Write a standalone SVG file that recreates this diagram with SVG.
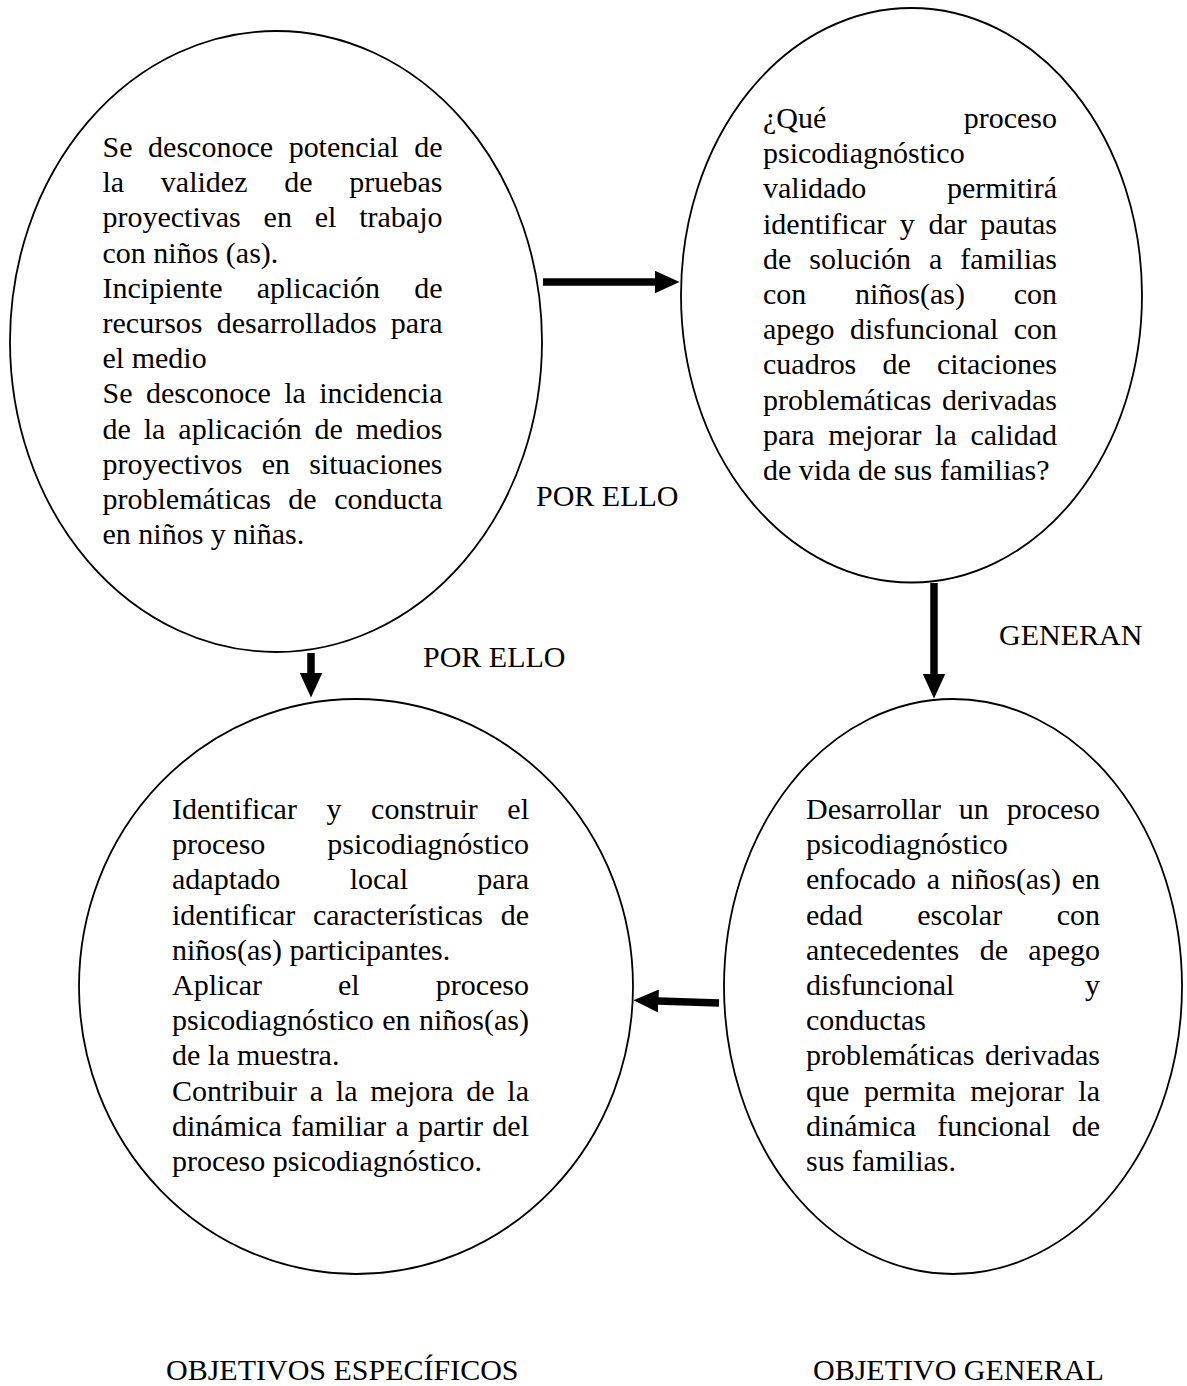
<svg xmlns="http://www.w3.org/2000/svg" width="1187" height="1386" viewBox="0 0 1187 1386">
<style>
  .node{fill:#ffffff;stroke:#000000;stroke-width:1.8}
  text{font-family:"Liberation Serif","Times New Roman",serif;font-size:30px;fill:#000000}
  .conn{stroke:#000000;stroke-width:7.5;fill:none;marker-end:url(#ah)}
</style>
<defs>
  <marker id="ah" markerUnits="userSpaceOnUse" markerWidth="25" markerHeight="23" viewBox="0 0 25 23" refX="0.5" refY="11.5" orient="auto">
    <path d="M0,0 L25,11.5 L0,23 Z" fill="#000000"/>
  </marker>
</defs>
<rect width="1187" height="1386" fill="#ffffff"/>

<g id="node-problema">
  <ellipse class="node" cx="276" cy="341.5" rx="266" ry="310.5"/>
  <text x="102.5" y="157" word-spacing="8.1" textLength="340" lengthAdjust="spacing">Se desconoce potencial de</text>
  <text x="102.5" y="192.2" word-spacing="29.2" textLength="340" lengthAdjust="spacing">la validez de pruebas</text>
  <text x="102.5" y="227.4" word-spacing="15.3" textLength="340" lengthAdjust="spacing">proyectivas en el trabajo</text>
  <text x="102.5" y="262.6">con niños (as).</text>
  <text x="102.5" y="297.8" word-spacing="26.7" textLength="340" lengthAdjust="spacing">Incipiente aplicación de</text>
  <text x="102.5" y="333" word-spacing="6.7" textLength="340" lengthAdjust="spacing">recursos desarrollados para</text>
  <text x="102.5" y="368.2">el medio</text>
  <text x="102.5" y="403.4" word-spacing="5.9" textLength="340" lengthAdjust="spacing">Se desconoce la incidencia</text>
  <text x="102.5" y="438.6" word-spacing="5.4" textLength="340" lengthAdjust="spacing">de la aplicación de medios</text>
  <text x="102.5" y="473.8" word-spacing="11.7" textLength="340" lengthAdjust="spacing">proyectivos en situaciones</text>
  <text x="102.5" y="509" word-spacing="10" textLength="340" lengthAdjust="spacing">problemáticas de conducta</text>
  <text x="102.5" y="544.2">en niños y niñas.</text>
</g>

<g id="node-pregunta">
  <ellipse class="node" cx="911.5" cy="295.25" rx="230.5" ry="287.25"/>
  <text x="763" y="128" word-spacing="129.9" textLength="294" lengthAdjust="spacing">¿Qué proceso</text>
  <text x="763" y="163.2">psicodiagnóstico</text>
  <text x="763" y="198.4" word-spacing="73.2" textLength="294" lengthAdjust="spacing">validado permitirá</text>
  <text x="763" y="233.6" word-spacing="6.1" textLength="294" lengthAdjust="spacing">identificar y dar pautas</text>
  <text x="763" y="268.8" word-spacing="10.5" textLength="294" lengthAdjust="spacing">de solución a familias</text>
  <text x="763" y="304" word-spacing="41.2" textLength="294" lengthAdjust="spacing">con niños(as) con</text>
  <text x="763" y="339.2" word-spacing="7.9" textLength="294" lengthAdjust="spacing">apego disfuncional con</text>
  <text x="763" y="374.4" word-spacing="18.7" textLength="294" lengthAdjust="spacing">cuadros de citaciones</text>
  <text x="763" y="409.6" word-spacing="3.2" textLength="294" lengthAdjust="spacing">problemáticas derivadas</text>
  <text x="763" y="444.8" word-spacing="6.1" textLength="294" lengthAdjust="spacing">para mejorar la calidad</text>
  <text x="763" y="480">de vida de sus familias?</text>
</g>

<g id="node-objetivos-especificos">
  <ellipse class="node" cx="356" cy="986.5" rx="277" ry="287.5"/>
  <text x="172" y="819" word-spacing="22.1" textLength="357" lengthAdjust="spacing">Identificar y construir el</text>
  <text x="172" y="854.2" word-spacing="54.5" textLength="357" lengthAdjust="spacing">proceso psicodiagnóstico</text>
  <text x="172" y="889.4" word-spacing="61.9" textLength="357" lengthAdjust="spacing">adaptado local para</text>
  <text x="172" y="924.6" word-spacing="10.2" textLength="357" lengthAdjust="spacing">identificar características de</text>
  <text x="172" y="959.8">niños(as) participantes.</text>
  <text x="172" y="995" word-spacing="68.5" textLength="357" lengthAdjust="spacing">Aplicar el proceso</text>
  <text x="172" y="1030.2" word-spacing="1" textLength="357" lengthAdjust="spacing">psicodiagnóstico en niños(as)</text>
  <text x="172" y="1065.4">de la muestra.</text>
  <text x="172" y="1100.6" word-spacing="5.2" textLength="357" lengthAdjust="spacing">Contribuir a la mejora de la</text>
  <text x="172" y="1135.8" word-spacing="1.8" textLength="357" lengthAdjust="spacing">dinámica familiar a partir del</text>
  <text x="172" y="1171">proceso psicodiagnóstico.</text>
  <text x="166" y="1380">OBJETIVOS ESPECÍFICOS</text>
</g>

<g id="node-objetivo-general">
  <ellipse class="node" cx="953" cy="986.5" rx="229" ry="287.5"/>
  <text x="806" y="819" word-spacing="10.4" textLength="294" lengthAdjust="spacing">Desarrollar un proceso</text>
  <text x="806" y="854.2">psicodiagnóstico</text>
  <text x="806" y="889.4" word-spacing="3.3" textLength="294" lengthAdjust="spacing">enfocado a niños(as) en</text>
  <text x="806" y="924.6" word-spacing="47" textLength="294" lengthAdjust="spacing">edad escolar con</text>
  <text x="806" y="959.8" word-spacing="12.9" textLength="294" lengthAdjust="spacing">antecedentes de apego</text>
  <text x="806" y="995" word-spacing="123.2" textLength="294" lengthAdjust="spacing">disfuncional y</text>
  <text x="806" y="1030.2">conductas</text>
  <text x="806" y="1065.4" word-spacing="3.2" textLength="294" lengthAdjust="spacing">problemáticas derivadas</text>
  <text x="806" y="1100.6" word-spacing="7.2" textLength="294" lengthAdjust="spacing">que permita mejorar la</text>
  <text x="806" y="1135.8" word-spacing="13.7" textLength="294" lengthAdjust="spacing">dinámica funcional de</text>
  <text x="806" y="1171">sus familias.</text>
  <text x="813" y="1380">OBJETIVO GENERAL</text>
</g>

<g id="connectors">
  <line id="c-problema-pregunta" class="conn" x1="543" y1="282" x2="655" y2="282"/>
  <line id="c-problema-especificos" class="conn" x1="311" y1="653" x2="311" y2="673"/>
  <line id="c-pregunta-general" class="conn" x1="934" y1="583" x2="934" y2="674"/>
  <line id="c-general-especificos" class="conn" x1="719" y1="1003" x2="658" y2="1001"/>
  <text x="536" y="506">POR ELLO</text>
  <text x="423" y="667">POR ELLO</text>
  <text x="999" y="645">GENERAN</text>
</g>
</svg>
